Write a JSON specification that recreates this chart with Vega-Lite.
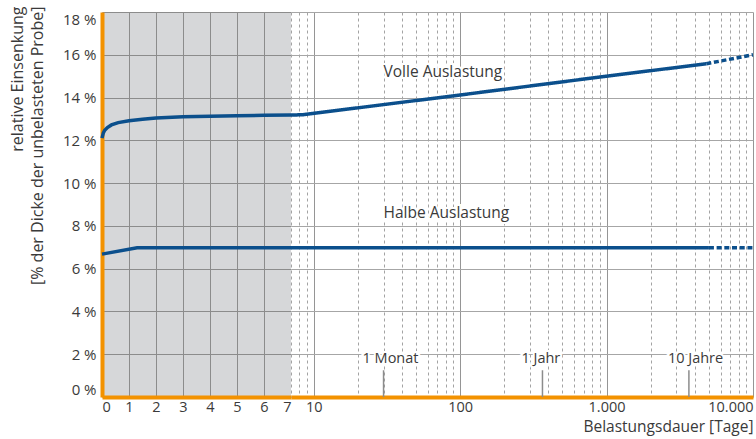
{
  "$schema": "https://vega.github.io/schema/vega-lite/v6.json",
  "background": "white",
  "padding": {"left": 9, "top": 5, "right": 3, "bottom": 3},
  "spacing": 0,
  "bounds": "flush",
  "config": {
    "font": "Open Sans",
    "view": {"stroke": null},
    "axis": {
      "labelFont": "Open Sans", "labelFontSize": 15, "labelColor": "#3a3a3a",
      "titleFont": "Open Sans", "titleFontSize": 16, "titleFontWeight": "normal", "titleColor": "#3a3a3a",
      "ticks": false
    }
  },
  "datasets": {
    "kurven": [
      {"reihe": "Volle Auslastung", "abschnitt": "gemessen", "tage": 0, "wert": 12.1},
      {"reihe": "Volle Auslastung", "abschnitt": "gemessen", "tage": 0.05, "wert": 12.35},
      {"reihe": "Volle Auslastung", "abschnitt": "gemessen", "tage": 0.1, "wert": 12.47},
      {"reihe": "Volle Auslastung", "abschnitt": "gemessen", "tage": 0.2, "wert": 12.6},
      {"reihe": "Volle Auslastung", "abschnitt": "gemessen", "tage": 0.35, "wert": 12.72},
      {"reihe": "Volle Auslastung", "abschnitt": "gemessen", "tage": 0.6, "wert": 12.83},
      {"reihe": "Volle Auslastung", "abschnitt": "gemessen", "tage": 1, "wert": 12.92},
      {"reihe": "Volle Auslastung", "abschnitt": "gemessen", "tage": 1.5, "wert": 12.99},
      {"reihe": "Volle Auslastung", "abschnitt": "gemessen", "tage": 2, "wert": 13.04},
      {"reihe": "Volle Auslastung", "abschnitt": "gemessen", "tage": 3, "wert": 13.1},
      {"reihe": "Volle Auslastung", "abschnitt": "gemessen", "tage": 4, "wert": 13.13},
      {"reihe": "Volle Auslastung", "abschnitt": "gemessen", "tage": 5, "wert": 13.15},
      {"reihe": "Volle Auslastung", "abschnitt": "gemessen", "tage": 6, "wert": 13.17},
      {"reihe": "Volle Auslastung", "abschnitt": "gemessen", "tage": 7, "wert": 13.18},
      {"reihe": "Volle Auslastung", "abschnitt": "gemessen", "tage": 8.5, "wert": 13.2},
      {"reihe": "Volle Auslastung", "abschnitt": "gemessen", "tage": 100, "wert": 14.12},
      {"reihe": "Volle Auslastung", "abschnitt": "gemessen", "tage": 1000, "wert": 15.0},
      {"reihe": "Volle Auslastung", "abschnitt": "gemessen", "tage": 4800, "wert": 15.58},
      {"reihe": "Volle Auslastung", "abschnitt": "prognostiziert", "tage": 4800, "wert": 15.58},
      {"reihe": "Volle Auslastung", "abschnitt": "prognostiziert", "tage": 10000, "wert": 16.0},
      {"reihe": "Halbe Auslastung", "abschnitt": "gemessen", "tage": 0, "wert": 6.68},
      {"reihe": "Halbe Auslastung", "abschnitt": "gemessen", "tage": 1.3, "wert": 6.98},
      {"reihe": "Halbe Auslastung", "abschnitt": "gemessen", "tage": 7, "wert": 6.98},
      {"reihe": "Halbe Auslastung", "abschnitt": "gemessen", "tage": 5000, "wert": 6.98},
      {"reihe": "Halbe Auslastung", "abschnitt": "prognostiziert", "tage": 5000, "wert": 6.98},
      {"reihe": "Halbe Auslastung", "abschnitt": "prognostiziert", "tage": 10000, "wert": 6.98}
    ],
    "marken": [
      {"label": "1 Monat", "tage": 30},
      {"label": "1 Jahr", "tage": 365},
      {"label": "10 Jahre", "tage": 3650}
    ],
    "beschriftung": [
      {"text": "Volle Auslastung", "tage": 30, "wert": 15.19},
      {"text": "Halbe Auslastung", "tage": 30, "wert": 8.58}
    ]
  },
  "hconcat": [
    {
      "width": 189,
      "height": 385,
      "view": {"fill": "#d6d7d9", "stroke": null},
      "layer": [
        {
          "data": {"name": "kurven"},
          "transform": [{"filter": "datum.tage <= 7"}],
          "mark": {"type": "line", "strokeWidth": 3.5, "color": "#0b4f8c"},
          "encoding": {
            "x": {
              "field": "tage", "type": "quantitative",
              "scale": {"domain": [0, 7], "nice": false, "zero": false},
              "axis": {
                "values": [0, 1, 2, 3, 4, 5, 6, 7],
                "title": null,
                "labelFontSize": 14.5,
                "domainColor": "#f39200", "domainWidth": 4,
                "grid": true, "gridColor": "#8c8c8c",
                "gridOpacity": {"condition": {"test": "datum.value == 0 || datum.value == 7", "value": 0}, "value": 1},
                "labelPadding": 3,
                "labelOverlap": false
              }
            },
            "y": {
              "field": "wert", "type": "quantitative",
              "scale": {"domain": [0, 18], "nice": false},
              "axis": {
                "values": [0, 2, 4, 6, 8, 10, 12, 14, 16, 18],
                "labelExpr": "datum.value + ' %'",
                "title": ["relative Einsenkung", "[% der Dicke der unbelasteten Probe]"],
                "titleAnchor": "end",
                "titleY": -6,
                "titleLineHeight": 20,
                "titlePadding": 17,
                "labelPadding": 6,
                "labelFlush": true,
                "domainColor": "#f39200", "domainWidth": 4,
                "grid": true, "gridColor": "#8c8c8c"
              }
            },
            "detail": {"field": "reihe"}
          }
        },
        {
          "mark": {"type": "rule", "color": "#f2b66d", "strokeWidth": 1},
          "encoding": {"y": {"datum": 18}}
        }
      ]
    },
    {
      "width": 462,
      "height": 385,
      "view": {"stroke": null},
      "layer": [
        {
          "data": {"name": "kurven"},
          "transform": [{"filter": "datum.tage >= 7"}],
          "mark": {"type": "line", "strokeWidth": 3.5, "color": "#0b4f8c"},
          "encoding": {
            "x": {
              "field": "tage", "type": "quantitative",
              "scale": {"type": "log", "domain": [7, 10000], "nice": false},
              "axis": {
                "values": [7, 8, 9, 10, 20, 30, 40, 50, 60, 70, 80, 90, 100, 200, 300, 400, 500, 600, 700, 800, 900, 1000, 2000, 3000, 4000, 5000, 6000, 7000, 8000, 9000, 10000],
                "labelExpr": "datum.value == 10 ? '10' : datum.value == 100 ? '100' : datum.value == 1000 ? '1.000' : datum.value == 10000 ? '10.000' : ''",
                "labelOverlap": false,
                "labelFlush": true,
                "labelFontSize": 14.5,
                "labelPadding": 3,
                "title": "Belastungsdauer [Tage]",
                "titleFontSize": 15.5,
                "titleAnchor": "end",
                "titlePadding": 6,
                "domainColor": "#f39200", "domainWidth": 4,
                "grid": true,
                "gridColor": {"condition": {"test": "indexof([10, 100, 1000, 10000], datum.value) >= 0", "value": "#959595"}, "value": "#a3a3a3"},
                "gridDash": {"condition": {"test": "indexof([10, 100, 1000, 10000], datum.value) >= 0", "value": []}, "value": [3, 3]}
              }
            },
            "y": {
              "field": "wert", "type": "quantitative",
              "scale": {"domain": [0, 18], "nice": false},
              "axis": {
                "values": [0, 2, 4, 6, 8, 10, 12, 14, 16, 18],
                "labels": false, "ticks": false, "domain": false, "title": null,
                "labelPadding": 0, "minExtent": 0, "maxExtent": 0, "offset": 0,
                "grid": true, "gridColor": "#a6a6a6"
              }
            },
            "strokeDash": {
              "field": "abschnitt", "type": "nominal",
              "scale": {"domain": ["gemessen", "prognostiziert"], "range": [[1, 0], [5, 2.7]]},
              "legend": null
            },
            "detail": {"field": "reihe"}
          }
        },
        {
          "data": {"name": "marken"},
          "mark": {"type": "rule", "color": "#8c8c8c", "strokeWidth": 1.5},
          "encoding": {
            "x": {"field": "tage", "type": "quantitative"},
            "y": {"datum": 0},
            "y2": {"datum": 1.25}
          }
        },
        {
          "data": {"name": "marken"},
          "mark": {"type": "text", "fontSize": 14.5, "font": "Open Sans", "color": "white", "stroke": "white", "strokeWidth": 4, "align": "left", "dx": -21, "baseline": "middle"},
          "encoding": {
            "x": {"field": "tage", "type": "quantitative"},
            "y": {"datum": 1.8},
            "text": {"field": "label"}
          }
        },
        {
          "data": {"name": "marken"},
          "mark": {"type": "text", "fontSize": 14.5, "font": "Open Sans", "color": "#3a3a3a", "align": "left", "dx": -21, "baseline": "middle"},
          "encoding": {
            "x": {"field": "tage", "type": "quantitative"},
            "y": {"datum": 1.8},
            "text": {"field": "label"}
          }
        },
        {
          "data": {"name": "beschriftung"},
          "mark": {"type": "text", "fontSize": 15.5, "font": "Open Sans", "color": "white", "stroke": "white", "strokeWidth": 4, "align": "left", "baseline": "middle"},
          "encoding": {
            "x": {"field": "tage", "type": "quantitative"},
            "y": {"field": "wert", "type": "quantitative"},
            "text": {"field": "text"}
          }
        },
        {
          "data": {"name": "beschriftung"},
          "mark": {"type": "text", "fontSize": 15.5, "font": "Open Sans", "color": "#3a3a3a", "align": "left", "baseline": "middle"},
          "encoding": {
            "x": {"field": "tage", "type": "quantitative"},
            "y": {"field": "wert", "type": "quantitative"},
            "text": {"field": "text"}
          }
        },
        {
          "mark": {"type": "rule", "color": "#f2b66d", "strokeWidth": 1},
          "encoding": {"y": {"datum": 18}}
        },
        {
          "mark": {"type": "rule", "color": "#f2b66d", "strokeWidth": 1},
          "encoding": {"x": {"datum": 10000}}
        }
      ]
    }
  ]
}
